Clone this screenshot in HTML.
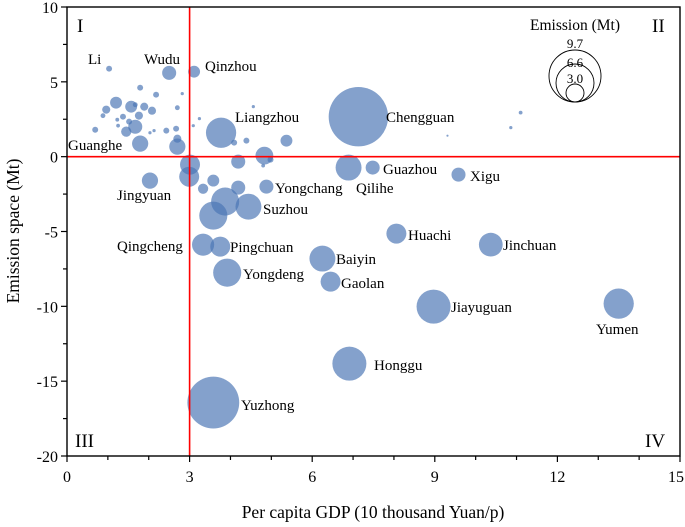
<!DOCTYPE html>
<html><head><meta charset="utf-8"><style>
body{margin:0;background:#fff}
svg{display:block;font-family:"Liberation Serif",serif}
</style></head><body>
<svg id="chart" width="685" height="527"></svg>
<script>
const names=["Chengguan","Liangzhou","Guazhou","Qilihe","Xigu","Jingyuan","Wudu","Qinzhou","Li","Guanghe","Yongchang","Suzhou","suzhou-b","suzhou-c","Qingcheng","Pingchuan","Yongdeng","Baiyin","Gaolan","Huachi","Jinchuan","Jiayuguan","Yumen","Honggu","Yuzhong"];
const gdp=[7.13,3.77,7.48,6.89,9.58,2.03,2.5,3.11,1.03,1.79,4.88,4.44,3.87,3.58,3.33,3.75,3.92,6.25,6.45,8.06,10.37,8.97,13.5,6.91,3.58,
3.01,2.99,4.19,4.83,5.37,4.39,4.09,4.98,4.8,4.19,3.58,3.33,
1.79,2.18,2.82,1.2,1.57,1.89,2.08,1.67,0.96,1.37,1.76,2.7,0.88,1.23,1.52,1.67,1.25,0.69,2.43,2.67,1.45,2.7,2.7,2.13,2.03,3.24,3.09,4.56,11.1,10.86,9.31];
const space=[2.67,1.6,-0.73,-0.73,-1.2,-1.6,5.6,5.68,5.88,0.87,-2.0,-3.34,-3.0,-3.94,-5.88,-6.01,-7.75,-6.81,-8.35,-5.14,-5.88,-10.02,-9.82,-13.83,-16.43,
-0.53,-1.34,-0.33,0.07,1.07,1.07,0.94,-0.2,-0.6,-2.07,-1.6,-2.14,
4.61,4.14,4.21,3.61,3.34,3.34,3.07,3.47,3.14,2.67,2.74,3.27,2.74,2.47,2.34,2.0,2.07,1.8,1.74,1.87,1.67,1.2,0.67,1.74,1.6,2.54,2.07,3.34,2.94,1.94,1.4];
const emission=[11.0,5.6,2.6,4.8,2.6,3.0,2.6,2.2,1.1,3.0,2.6,4.8,5.2,5.2,4.1,3.7,5.2,4.8,3.7,3.7,4.4,6.3,5.6,6.3,9.6,
3.7,3.7,2.6,3.3,2.2,1.1,1.1,1.1,0.7,2.6,2.2,1.9,
1.1,1.1,0.6,2.2,2.2,1.5,1.5,0.9,1.5,1.1,1.5,0.9,0.9,0.7,1.1,2.6,0.7,1.1,1.1,1.1,1.9,1.5,3.0,0.6,0.6,0.6,0.6,0.6,0.7,0.6,0.4];
const xTicks=[0,3,6,9,12,15];
const yTicks=[10,5,0,-5,-10,-15,-20];
const legendVals=[9.7,6.6,3.0];

const L=67,R=680,T=7,B=456;
const X=v=>L+(v-0)/15*(R-L);
const Y=v=>T+(10-v)/30*(B-T);
const rad=e=>Math.max(1,2.7*e);
const svg=document.getElementById('chart');
const NS='http://www.w3.org/2000/svg';
function mk(tag,attrs,parent){const e=document.createElementNS(NS,tag);for(const k in attrs)e.setAttribute(k,attrs[k]);(parent||svg).appendChild(e);return e;}

const gB=mk('g',{});


const n=Math.min(gdp.length,space.length,emission.length);
for(let i=0;i<n;i++){
  const c=mk('circle',{cx:X(gdp[i]),cy:Y(space[i]),r:rad(emission[i]),fill:'#4a74b4','fill-opacity':0.68},gB);
  const nm=i<names.length?names[i].toLowerCase():'unlabeled-'+i;
  
  
}
const vl=mk('line',{x1:X(3),x2:X(3),y1:T,y2:B,stroke:'#f00','stroke-width':1.6});


const hl=mk('line',{x1:L,x2:R,y1:Y(0),y2:Y(0),stroke:'#f00','stroke-width':1.6});


const fr=mk('rect',{x:L,y:T,width:R-L,height:B-T,fill:'none',stroke:'#000','stroke-width':1.4});


for(let v=0;v<=15;v++){
  const major=v%3===0;
  mk('line',{x1:X(v),x2:X(v),y1:B,y2:B+(major?6:4),stroke:'#000','stroke-width':1.2});
}
xTicks.forEach((v,i)=>{const last=i===xTicks.length-1;
const t=mk('text',{x:last?684:X(v),y:B+26,'text-anchor':last?'end':'middle','font-size':16});t.textContent=v;

});
for(let v=-20;v<=10;v+=2.5){
  const major=v%5===0;
  mk('line',{x1:L,x2:L-(major?6:4),y1:Y(v),y2:Y(v),stroke:'#000','stroke-width':1.2});
}
yTicks.forEach(v=>{const t=mk('text',{x:L-9,y:Y(v)+6,'text-anchor':'end','font-size':16});t.textContent=v;

});
const gl=mk('g',{});


const lx=575,lb=102;
legendVals.forEach((v,i)=>{
  const r=[26,19,9][i];
  mk('circle',{cx:lx,cy:lb-r,r:r,fill:'none',stroke:'#000','stroke-width':0.9},gl);
  const t=mk('text',{x:lx,y:[48,67,83][i],'text-anchor':'middle','font-size':13},gl);
  t.textContent=v.toFixed(1);
});

const labels=[["Li",88,64],["Wudu",144,64],["Qinzhou",205,71],["Liangzhou",235,122],["Chengguan",386,122],["Guanghe",68,150],["Jingyuan",117,200],["Yongchang",275,193],["Qilihe",356,193],["Guazhou",383,174],["Xigu",470,181],["Suzhou",263,214],["Huachi",408,240],["Jinchuan",503,250],["Qingcheng",117,251],["Pingchuan",230,252],["Baiyin",336,264],["Yongdeng",243,279],["Gaolan",341,288],["Jiayuguan",451,312],["Yumen",596,334],["Honggu",374,370],["Yuzhong",241,410]];
function tx(s,x,y,size,extra){const e=document.createElementNS(NS,'text');e.setAttribute('x',x);e.setAttribute('y',y);e.setAttribute('font-size',size);if(extra)for(const k in extra)e.setAttribute(k,extra[k]);e.textContent=s;svg.appendChild(e);return e;}
labels.forEach(l=>{const e=tx(l[0],l[1],l[2],15);

});
[["I",77,32],["II",652,32],["III",75,447],["IV",645,447]].forEach(q=>{const e=tx(q[0],q[1],q[2],19);

});
const lt=tx("Emission (Mt)",575,30,15.5,{'text-anchor':'middle'});


const xt=tx("Per capita GDP (10 thousand Yuan/p)",373,518,17.5,{'text-anchor':'middle'});


const yt=tx("Emission space (Mt)",0,0,17.5,{'text-anchor':'middle',transform:'translate(19,231) rotate(-90)'});


</script>
</body></html>
